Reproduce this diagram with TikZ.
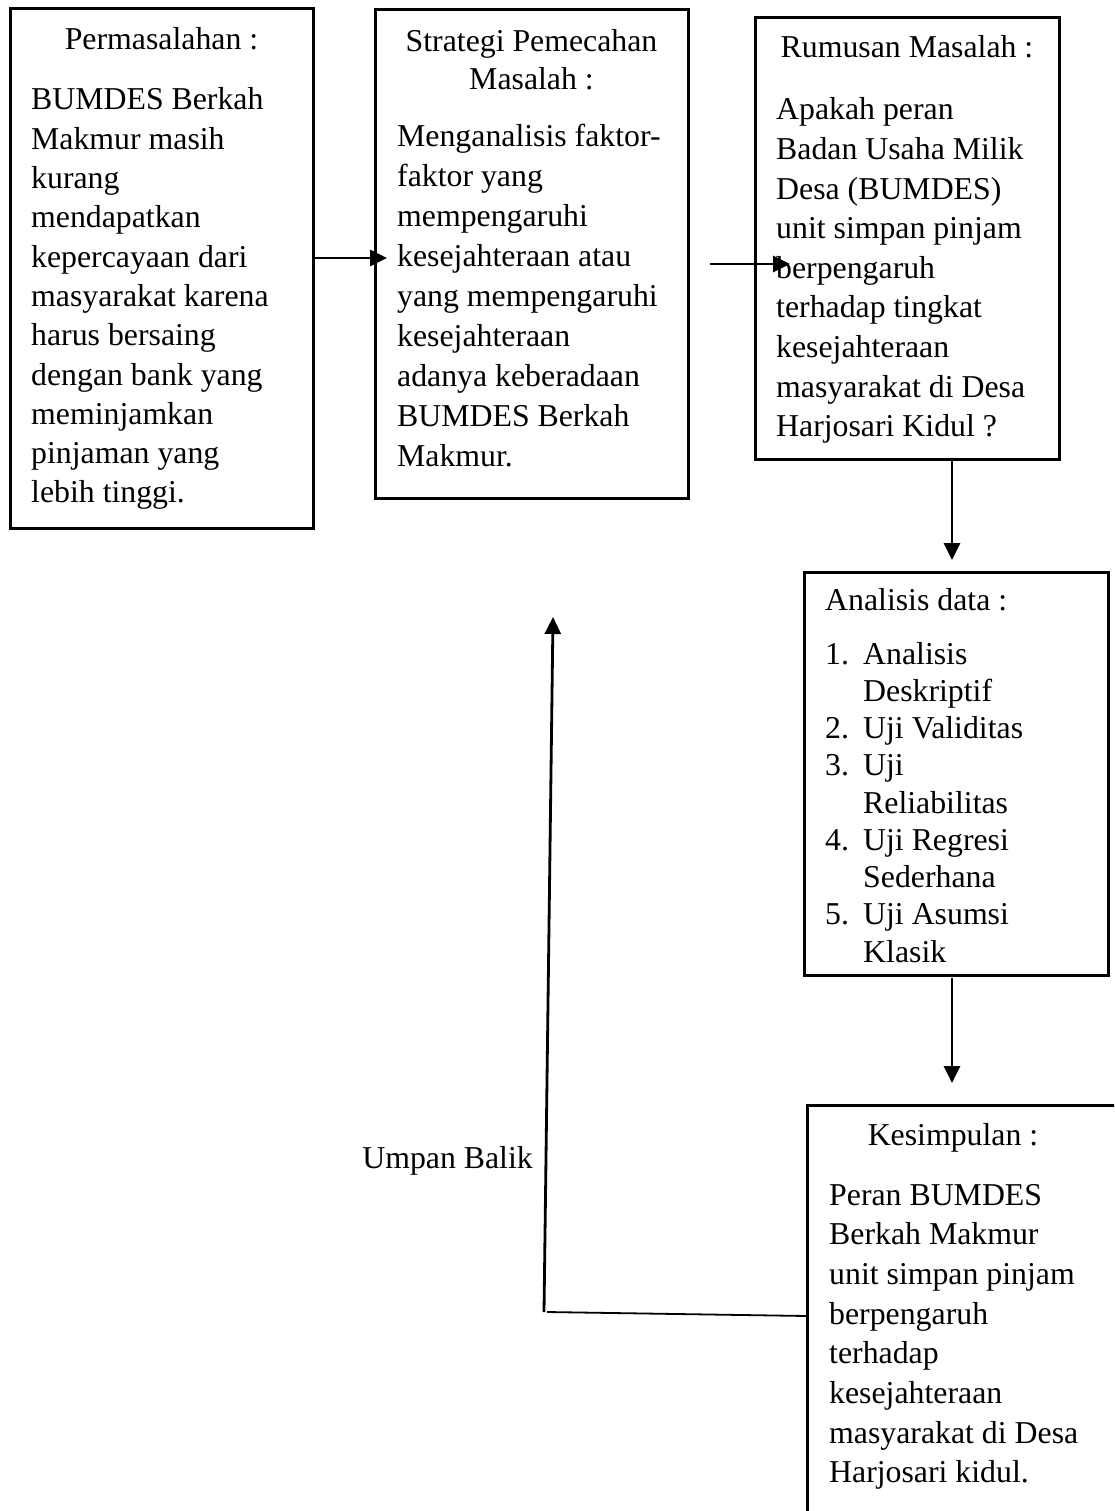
\documentclass[tikz,border=0pt]{standalone}
\usepackage{fontspec}
\setmainfont{Liberation Serif}
\usetikzlibrary{arrows.meta}
\newcommand\txtlines[2]{\parbox[t]{#1}{\raggedright #2}}
\newcommand\txtcenter[2]{\parbox[t]{#1}{\centering #2}}
\newcommand\itm[1]{\makebox[38pt][l]{#1}}
\newcommand\ind{\hspace*{38pt}}
\begin{document}
\begin{tikzpicture}[x=1pt,y=-1pt,
  boxframe/.style={draw, line width=3pt, inner sep=0pt, outer sep=0pt, anchor=north west},
  bodytxt/.style={inner sep=0pt, anchor=base west, font=\fontsize{31.8}{#1}\selectfont},
  headtxt/.style={inner sep=0pt, anchor=base, font=\fontsize{31.8}{38}\selectfont},
  arr/.style={line width=2.8pt, -{Triangle[length=17pt,width=16pt]}},
  thinline/.style={line width=1.8pt},
]
\useasboundingbox (0,0) rectangle (1114,1511);
\clip (0,0) rectangle (1114,1511);
\fill[white] (0,0) rectangle (1114,1511);

% Boxes
\node[boxframe, minimum width=303pt, minimum height=519pt] (b1) at (10,9) {};
\node[boxframe, minimum width=313pt, minimum height=488pt] (b2) at (375,10) {};
\node[boxframe, minimum width=304pt, minimum height=441pt] (b3) at (755,18) {};
\node[boxframe, minimum width=304pt, minimum height=403pt] (b4) at (804,572) {};
\node[boxframe, minimum width=330pt, minimum height=440pt] (b5) at (807,1105) {};

% Box 1 text
\node[headtxt] (h1) at (161.5,50) {Permasalahan :};
\node[bodytxt=39.3] (t1) at (31,110) {\txtlines{280pt}{BUMDES Berkah\\Makmur masih\\kurang\\mendapatkan\\kepercayaan dari\\masyarakat karena\\harus bersaing\\dengan bank yang\\meminjamkan\\pinjaman yang\\lebih tinggi.}};

% Box 2 text
\node[headtxt] (h2) at (531.5,52) {\txtcenter{300pt}{Strategi Pemecahan\\Masalah :}};
\node[bodytxt=40] (t2) at (397,147) {\txtlines{285pt}{Menganalisis faktor-\\faktor yang\\mempengaruhi\\kesejahteraan atau\\yang mempengaruhi\\kesejahteraan\\adanya keberadaan\\BUMDES Berkah\\Makmur.}};

% Box 3 text
\node[headtxt] (h3) at (907,58) {Rumusan Masalah :};
\node[bodytxt=39.6] (t3) at (776,120) {\txtlines{280pt}{Apakah peran\\Badan Usaha Milik\\Desa (BUMDES)\\unit simpan pinjam\\berpengaruh\\terhadap tingkat\\kesejahteraan\\masyarakat di Desa\\Harjosari Kidul ?}};

% Box 4 text
\node[bodytxt=38] (h4) at (825,610) {Analisis data :};
\node[bodytxt=37.25] (t4) at (825,664) {\txtlines{280pt}{\itm{1.}Analisis\\\ind Deskriptif\\\itm{2.}Uji Validitas\\\itm{3.}Uji\\\ind Reliabilitas\\\itm{4.}Uji Regresi\\\ind Sederhana\\\itm{5.}Uji Asumsi\\\ind Klasik}};

% Box 5 text
\node[headtxt] (h5) at (953,1145) {Kesimpulan :};
\node[bodytxt=39.7] (t5) at (829,1205) {\txtlines{280pt}{Peran BUMDES\\Berkah Makmur\\unit simpan pinjam\\berpengaruh\\terhadap\\kesejahteraan\\masyarakat di Desa\\Harjosari kidul.}};

% Feedback label
\node[inner sep=0pt, anchor=base east, font=\fontsize{31.8}{38}\selectfont] (ub) at (533,1168) {Umpan Balik};

% Coordinates for free ends
\coordinate (a1e) at (387,258);
\coordinate (a2s) at (710,264);
\coordinate (a2e) at (790,264);
\coordinate (a3e) at (952,560);
\coordinate (a4s) at (952,978);
\coordinate (a4e) at (952,1083);
\coordinate (fbc) at (544,1312);
\coordinate (fbh) at (547,1312);
\coordinate (fbt) at (553,617);

% Connectors
\draw[arr] (b1.east |- a1e) -- (a1e);
\draw[arr] (a2s) -- (a2e);
\draw[arr] (b3.south -| a3e) -- (a3e);
\draw[arr] (a4s) -- (a4e);
\draw[thinline] (b5.west |- 0,1316) -- (fbh);
\draw[arr] (fbc) -- (fbt);
\end{tikzpicture}
\end{document}
